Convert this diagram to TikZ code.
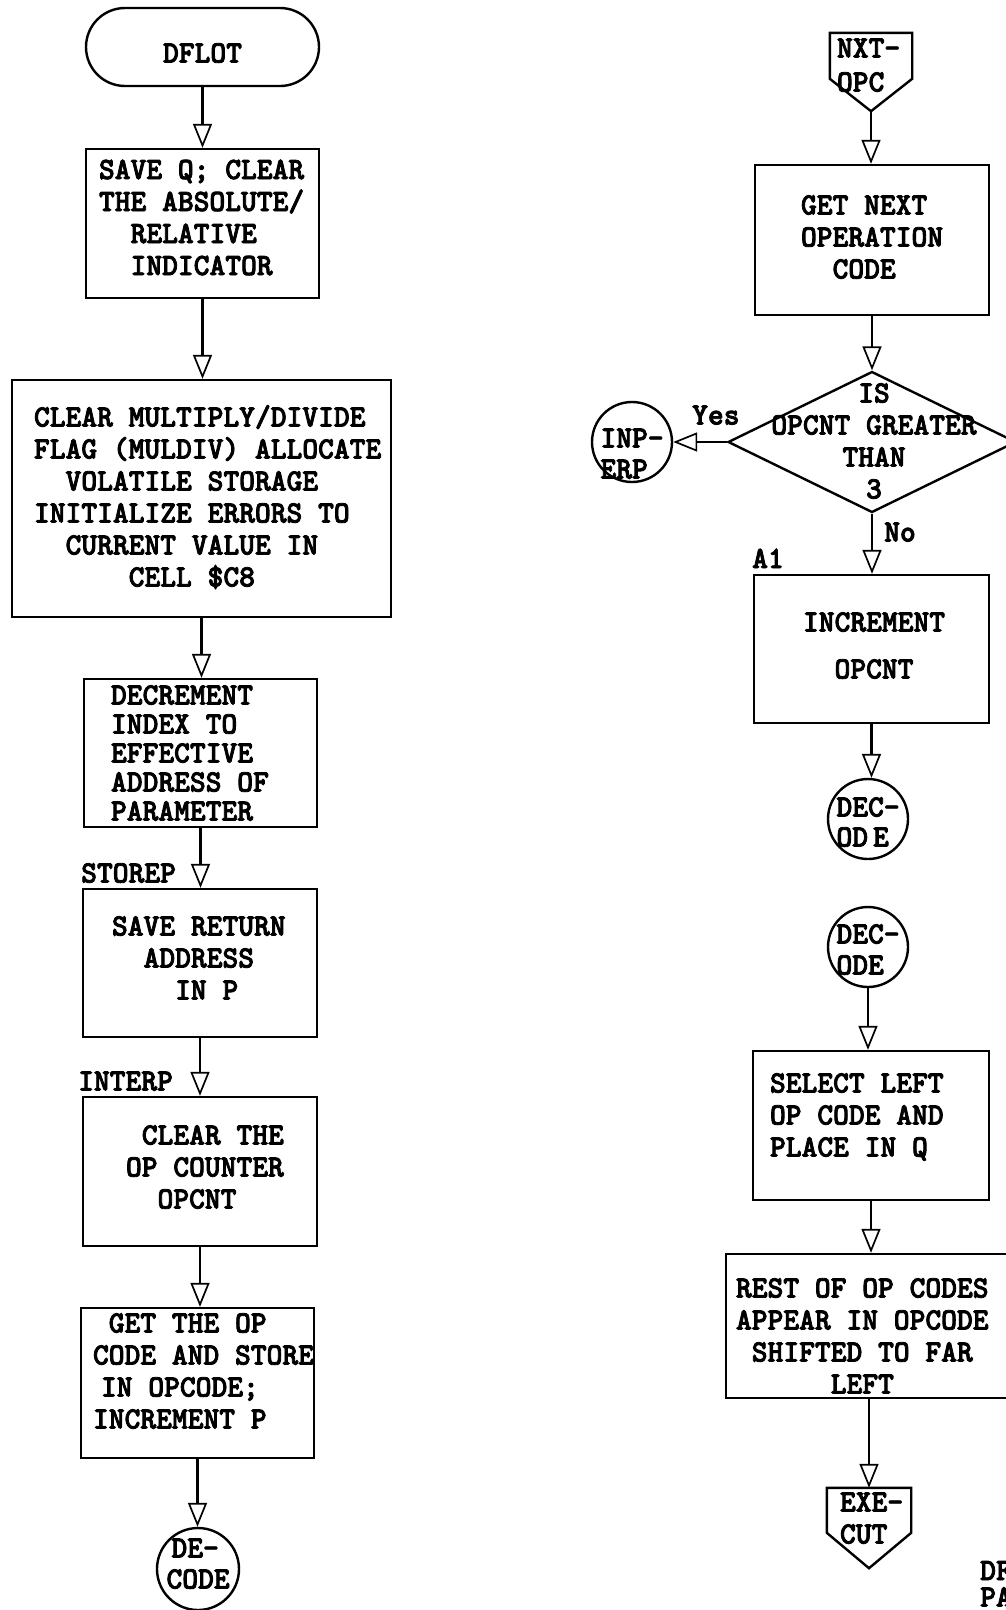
\documentclass[tikz,border=0pt]{standalone}
\usepackage{fontspec}
\usetikzlibrary{arrows.meta,shapes.geometric,calc}
\newfontfamily\tw{lmmonolt10-bold.otf}[FakeStretch=0.97, FakeBold=2.6]
\newlength\colw
\newcommand\cols[1]{\hspace*{#1\colw}}
\tikzset{
  tw/.style={font=\tw\fontsize{31}{32}\selectfont},
  every node/.append style={execute at begin node={%
    \spaceskip=\colw\xspaceskip=\colw\hyphenpenalty=10000
    \exhyphenpenalty=10000\lineskiplimit=-100pt\hbadness=10000\hfuzz=\maxdimen}},
  % box of width #1, text column offset #2, first baseline #3 below top, height #4
  tb/.style n args={4}{minimum width=#1pt, inner xsep=#2pt,
    text width={#1pt-2*#2pt}, text height=#3pt, text depth={#4pt-#3pt}},
  box/.style={draw, rectangle, line width=2.4pt, inner ysep=0pt, tw, align=left},
  term/.style={draw, rectangle, rounded corners=39pt, line width=2.4pt,
    inner ysep=0pt, tw, align=center},
  circ/.style={draw, circle, line width=2.4pt, inner sep=0pt, tw, align=left,
    text width=63pt},
  offp/.style={rectangle, inner ysep=0pt, tw, align=left},
  lbl/.style={tw, inner sep=0pt},
  arr/.style={line width=2.4pt,
    -{Triangle[open, length=24pt, width=19pt, line width=1.7pt]}},
  edge/.style={line width=2.4pt, line join=miter}
}
\begin{document}
\settowidth\colw{\tw\fontsize{31}{32}\selectfont M}%
\begin{tikzpicture}[x=1pt, y=-1pt]
\useasboundingbox (0,0) rectangle (1005,1610);

% ---------- left column ----------
\node[term, tb={233}{10}{54.5}{78}] (dflot) at (202.5,47) {DFLOT};
\node[box, tb={233}{13}{30}{149}] (b1) at (202.5,223.5)
  {SAVE~Q;~CLEAR\\THE~ABSOLUTE/\\\cols{2}RELATIVE\\\cols{2}INDICATOR};
\node[box, tb={379}{22}{46.5}{237}] (b2) at (201.5,498.5)
  {CLEAR~MULTIPLY/DIVIDE\\FLAG~(MULDIV)~ALLOCATE\\\cols{2}VOLATILE~STORAGE\\
   INITIALIZE~ERRORS~TO\\\cols{2}CURRENT~VALUE~IN\\\cols{6}CELL~\$C8};
\node[box, tb={233}{27}{25.5}{148}, font=\tw\fontsize{31}{29}\selectfont]
  (b3) at (200.5,753)
  {DECREMENT\\INDEX~TO\\EFFECTIVE\\ADDRESS~OF\\PARAMETER};
\node[box, tb={234}{29}{46.5}{148}] (b4) at (200,963)
  {SAVE~RETURN\\\cols{2}ADDRESS\\\cols{4}IN~P};
\node[box, tb={234}{43}{47.5}{149}] (b5) at (200,1171.5)
  {\cols{1}CLEAR~THE\\OP~COUNTER\\\cols{2}OPCNT};
\node[box, tb={233}{12}{24.5}{150}] (b6) at (197.5,1383)
  {\cols{1}GET~THE~OP\\CODE~AND~STORE\\\hspace*{8pt}IN~OPCODE;\\INCREMENT~P};
\node[circ, minimum size=82pt, text height=0pt, text depth=23pt,
  font=\tw\fontsize{31}{31}\selectfont] (dec) at (198,1569)
  {\hspace*{5pt}DE-\\CODE};

\node[lbl, anchor=base west] (storep) at (81,882.5) {STOREP};
\node[lbl, anchor=base west] (interp) at (78,1090.5) {INTERP};

\draw[arr] (dflot.south) -- (dflot.south |- b1.north);
\draw[arr] (b1.south) -- (b1.south |- b2.north);
\draw[arr] (b2.south) -- (b2.south |- b3.north);
\draw[arr] (b3.south) -- (b3.south |- b4.north);
\draw[arr] (b4.south) -- (b4.south |- b5.north);
\draw[arr] (b5.south) -- (b5.south |- b6.north);
\draw[arr] (b6.south) -- (b6.south |- dec.north);

% ---------- right column ----------
\node[offp, tb={82}{7}{24.5}{78}, font=\tw\fontsize{31}{34}\selectfont]
  (nxt) at (871,72) {NXT-\\OPC};
\draw[edge] (nxt.north west) -- (nxt.north east) -- ($(nxt.north east)+(0,46)$)
  -- (nxt.south) -- ($(nxt.north west)+(0,46)$) -- cycle;

\node[box, tb={234}{46}{49.5}{150}] (gn) at (872,240)
  {GET~NEXT\\OPERATION\\\cols{2}CODE};

\node[draw, diamond, line width=2.4pt, minimum width=288pt, minimum height=141pt,
  inner sep=0pt] (dia) at (872,442) {};
\node[lbl, align=center, text width=260pt, text height=0pt, text depth=0pt]
  (dq) at (874,402.5) {IS\\OPCNT~GREATER\\THAN\\3};

\node[circ, minimum size=80pt, text height=11pt, text depth=0pt,
  font=\tw\fontsize{31}{31}\selectfont] (inp) at (632,442) {INP-\\ERP};

\node[box, tb={235}{49}{56.5}{148}] (inc) at (871.5,649)
  {INCREMENT\\[15pt]\cols{2}OPCNT};

\node[circ, minimum size=80pt, text height=0pt, text depth=5pt,
  font=\tw\fontsize{31}{30}\selectfont] (dec1) at (868,819)
  {DEC-\\OD\kern5pt E};
\node[circ, minimum size=80pt, text height=0pt, text depth=7pt,
  font=\tw\fontsize{31}{31}\selectfont] (dec2) at (868,947)
  {DEC-\\ODE};

\node[box, tb={236}{17}{41.5}{149}] (sel) at (871,1125.5)
  {SELECT~LEFT\\OP~CODE~AND\\PLACE~IN~Q};
\node[box, tb={286}{10}{43.5}{144}] (rest) at (869,1326)
  {REST~OF~OP~CODES\\APPEAR~IN~OPCODE\\\cols{1}SHIFTED~TO~FAR\\\cols{6}LEFT};

\node[offp, tb={84}{13}{23.5}{80}] (exe) at (869,1528) {EXE-\\CUT};
\draw[edge] (exe.north west) -- (exe.north east) -- ($(exe.north east)+(0,45)$)
  -- (exe.south) -- ($(exe.north west)+(0,45)$) -- cycle;

\node[lbl, anchor=base west] (yes) at (692,424.5) {Yes};
\node[lbl, anchor=base west] (no) at (884,541.5) {No};
\node[lbl, anchor=base west] (a1) at (752,568) {A1};
\node[lbl, align=left, text width=80pt, text height=0pt, text depth=0pt,
  font=\tw\fontsize{31}{26.5}\selectfont, anchor=west] (dfpa) at (980,1580)
  {DF\\PA};

\draw[arr] (nxt.south) -- (nxt.south |- gn.north);
\draw[arr] (gn.south) -- (gn.south |- dia.north);
\draw[arr] (dia.west) -- (inp.east);
\draw[arr] (dia.south) -- (dia.south |- inc.north);
\draw[arr] (inc.south) -- (inc.south |- dec1.north);
\draw[arr] (dec2.south) -- (dec2.south |- sel.north);
\draw[arr] (sel.south) -- (sel.south |- rest.north);
\draw[arr] (rest.south) -- (rest.south |- exe.north);
\end{tikzpicture}
\end{document}
